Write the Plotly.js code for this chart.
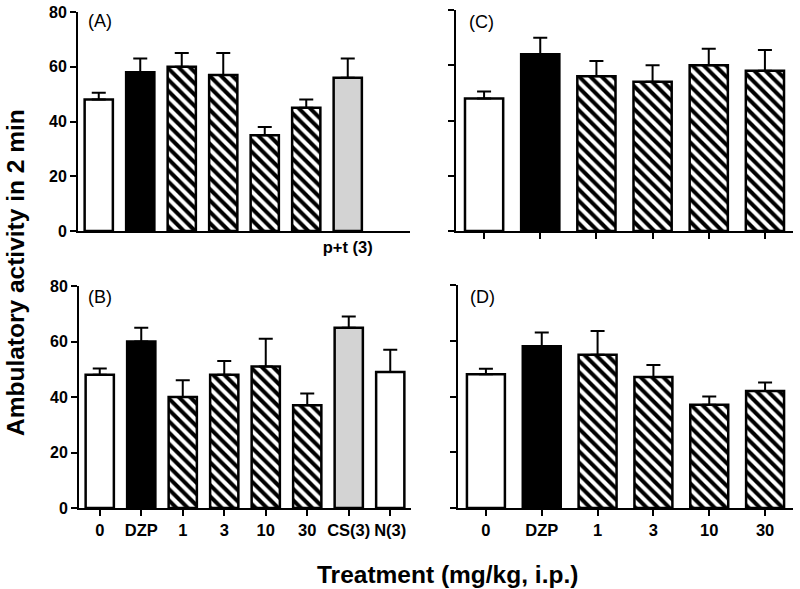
<!DOCTYPE html>
<html>
<head>
<meta charset="utf-8">
<script src="https://cdn.plot.ly/plotly-3.0.1.min.js"></script>
<style>html,body{margin:0;padding:0;background:#fff;}#chart{width:800px;height:589px;}</style>
</head>
<body>
<div id="chart"></div>
<script>
// ---- data ----
const labelsA = ['', '', '', '', '', '', 'p+t (3)', ''];
const valuesA = [48, 58, 60, 57, 35, 45, 56];
const errorsA = [2.5, 5, 5, 8, 3, 3, 7];
const fillsA = ['white', 'black', 'hatch', 'hatch', 'hatch', 'hatch', 'grey'];

const labelsB = ['0', 'DZP', '1', '3', '10', '30', 'CS(3)', 'N(3)'];
const valuesB = [48, 60, 40, 48, 51, 37, 65, 49];
const errorsB = [2.3, 5, 6, 5, 10, 4.3, 4, 8];
const fillsB = ['white', 'black', 'hatch', 'hatch', 'hatch', 'hatch', 'grey', 'white'];

const labelsC = ['0', 'DZP', '1', '3', '10', '30'];
const valuesC = [48, 64, 56, 54, 60, 58];
const errorsC = [2.5, 6, 5.5, 6, 6, 7.5];
const fillsC = ['white', 'black', 'hatch', 'hatch', 'hatch', 'hatch'];

const labelsD = ['0', 'DZP', '1', '3', '10', '30'];
const valuesD = [48, 58, 55, 47, 37, 42];
const errorsD = [2, 5, 8.5, 4.3, 3, 3];
const fillsD = ['white', 'black', 'hatch', 'hatch', 'hatch', 'hatch'];

const yTicks = [0, 20, 40, 60, 80];

// ---- styling helpers ----
const FONT = 'Liberation Sans, Arial, sans-serif';
const colorOf = f => f === 'black' ? 'black' : (f === 'grey' ? '#d3d3d3' : 'white');

// one trace per fill style so that each trace has a single (scalar) pattern
function barTraces(values, errors, fills, xa, ya) {
  const styles = ['white', 'black', 'hatch', 'grey'];
  const out = [];
  styles.forEach(s => {
    const idx = fills.map((f, i) => f === s ? i : -1).filter(i => i >= 0);
    if (!idx.length) return;
    const t = {
      type: 'bar',
      x: idx,
      y: idx.map(i => values[i]),
      xaxis: xa, yaxis: ya,
      width: 0.68,
      marker: {
        color: colorOf(s),
        line: {color: 'black', width: 2.5}
      },
      error_y: {type: 'data', symmetric: false, array: idx.map(i => errors[i]), arrayminus: idx.map(() => 0),
                color: 'black', thickness: 2, width: 7},
      hoverinfo: 'none',
      showlegend: false
    };
    if (s === 'hatch') {
      t.marker.pattern = {shape: '\\', fgcolor: 'black', bgcolor: 'white', size: 8, solidity: 0.5};
    }
    out.push(t);
  });
  return out;
}

function xAxis(domain, n, labels, showTicks, showLabels, anchor) {
  return {
    domain: domain, anchor: anchor,
    range: [-0.5, n - 0.5],
    tickmode: 'array',
    tickvals: labels.map((l, i) => i),
    ticktext: labels,
    showticklabels: showLabels,
    ticks: showTicks ? 'outside' : '',
    ticklen: 6, tickwidth: 2, tickcolor: 'black',
    showline: true, linecolor: 'black', linewidth: 2,
    showgrid: false, zeroline: false,
    tickfont: {family: FONT, size: 16.5, color: 'black', weight: 'bold'},
    fixedrange: true
  };
}

function yAxis(domain, showLabels, anchor) {
  return {
    domain: domain, anchor: anchor,
    range: [0, 80],
    tickmode: 'array', tickvals: yTicks,
    ticks: 'outside', ticklen: 6, tickwidth: 2, tickcolor: 'black',
    showticklabels: showLabels,
    showline: true, linecolor: 'black', linewidth: 2,
    showgrid: false, zeroline: false,
    tickfont: {family: FONT, size: 16, color: 'black', weight: 'bold'},
    fixedrange: true
  };
}

const W = 800, H = 589;
const px = (a, b) => [a / W, b / W];
const py = (top, bottom) => [1 - bottom / H, 1 - top / H];

const data = [].concat(
  barTraces(valuesA, errorsA, fillsA, 'x', 'y'),
  barTraces(valuesB, errorsB, fillsB, 'x2', 'y2'),
  barTraces(valuesC, errorsC, fillsC, 'x3', 'y3'),
  barTraces(valuesD, errorsD, fillsD, 'x4', 'y4')
);

const layout = {
  width: W, height: H,
  margin: {l: 0, r: 0, t: 0, b: 0},
  paper_bgcolor: 'white', plot_bgcolor: 'white',
  font: {family: FONT, color: 'black'},
  barmode: 'overlay',
  xaxis:  xAxis(px(78, 410), labelsA.length, labelsA, false, true, 'y'),
  yaxis:  yAxis(py(12, 231), true, 'x'),
  xaxis2: xAxis(px(79, 411), labelsB.length, labelsB, true, true, 'y2'),
  yaxis2: yAxis(py(286, 508), true, 'x2'),
  xaxis3: xAxis(px(456, 793), labelsC.length, labelsC, true, false, 'y3'),
  yaxis3: yAxis(py(10, 231), false, 'x3'),
  xaxis4: xAxis(px(458, 793), labelsD.length, labelsD, true, true, 'y4'),
  yaxis4: yAxis(py(285, 508), false, 'x4'),
  annotations: [
    {text: '(A)', xref: 'paper', yref: 'paper', x: 86 / W, y: 1 - 21 / H, xanchor: 'left', yanchor: 'middle', showarrow: false, font: {family: FONT, size: 18}},
    {text: '(B)', xref: 'paper', yref: 'paper', x: 86 / W, y: 1 - 297 / H, xanchor: 'left', yanchor: 'middle', showarrow: false, font: {family: FONT, size: 18}},
    {text: '(C)', xref: 'paper', yref: 'paper', x: 467 / W, y: 1 - 22 / H, xanchor: 'left', yanchor: 'middle', showarrow: false, font: {family: FONT, size: 18}},
    {text: '(D)', xref: 'paper', yref: 'paper', x: 468 / W, y: 1 - 297 / H, xanchor: 'left', yanchor: 'middle', showarrow: false, font: {family: FONT, size: 18}},
    {text: 'Ambulatory activity in 2 min', xref: 'paper', yref: 'paper', x: 15 / W, y: 1 - 273 / H, xanchor: 'center', yanchor: 'middle', textangle: -90, showarrow: false, font: {family: FONT, size: 24.5, weight: 'bold'}},
    {text: 'Treatment (mg/kg, i.p.)', xref: 'paper', yref: 'paper', x: 447 / W, y: 1 - 574 / H, xanchor: 'center', yanchor: 'middle', showarrow: false, font: {family: FONT, size: 24.5, weight: 'bold'}}
  ]
};

Plotly.newPlot('chart', data, layout, {displayModeBar: false});
</script>
</body>
</html>
